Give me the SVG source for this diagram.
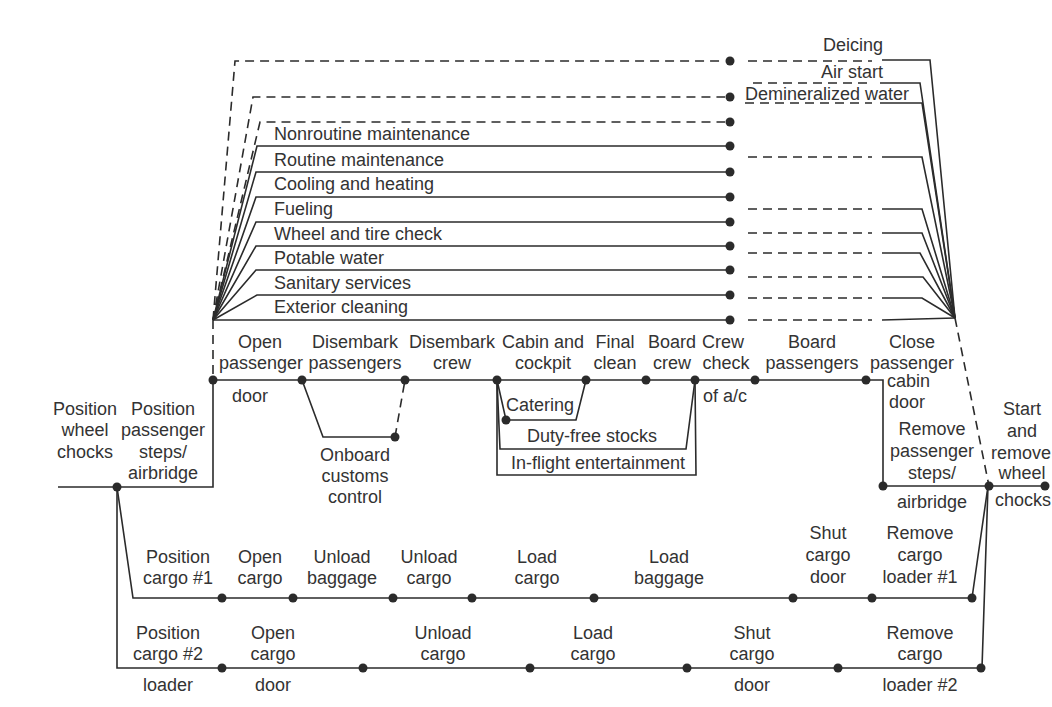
<svg xmlns="http://www.w3.org/2000/svg" width="1052" height="707" viewBox="0 0 1052 707">
<style>
.ln{fill:none;stroke:#2b2b2b;stroke-width:1.6}
.ds{fill:none;stroke:#2b2b2b;stroke-width:1.6;stroke-dasharray:9 6}
.dt{fill:#2b2b2b}
text{font-family:"Liberation Sans",Arial,sans-serif;font-size:18px;fill:#333}
.c{text-anchor:middle}
.e{text-anchor:end}
</style>
<rect width="1052" height="707" fill="#ffffff"/>
<g id="connectors">
  <!-- left fan of services -->
  <path class="ds" d="M213,320 L235,61 L725,61"/>
  <path class="ds" d="M213,320 L253,97 L725,97"/>
  <path class="ds" d="M213,320 L260,122 L725,122"/>
  <path class="ln" d="M213,320 L257,146 L730,146"/>
  <path class="ln" d="M213,320 L256,172 L730,172"/>
  <path class="ln" d="M213,320 L256,197 L730,197"/>
  <path class="ln" d="M213,320 L256,222 L730,222"/>
  <path class="ln" d="M213,320 L256,246 L730,246"/>
  <path class="ln" d="M213,320 L256,270 L730,270"/>
  <path class="ln" d="M213,320 L257,295 L730,295"/>
  <path class="ln" d="M213,320 L730,320"/>
  <path class="ds" d="M213,320 L213,380"/>
  <!-- right fan -->
  <path class="ds" d="M748,61 L872,61"/>
  <path class="ln" d="M882,60 L930,60 L955,318"/>
  <path class="ds" d="M753,83 L872,83"/>
  <path class="ln" d="M880,83 L920,83 L955,318"/>
  <path class="ds" d="M745,103 L872,103"/>
  <path class="ln" d="M880,103 L922,103 L955,318"/>
  <path class="ds" d="M748,157 L872,157"/>
  <path class="ln" d="M882,157 L922,157 L955,318"/>
  <path class="ds" d="M748,209 L872,209"/>
  <path class="ln" d="M882,209 L922,209 L955,318"/>
  <path class="ds" d="M748,233 L872,233"/>
  <path class="ln" d="M882,233 L922,233 L955,318"/>
  <path class="ds" d="M748,253 L872,253"/>
  <path class="ln" d="M882,253 L920,253 L955,318"/>
  <path class="ds" d="M748,277 L872,277"/>
  <path class="ln" d="M882,277 L923,277 L955,318"/>
  <path class="ds" d="M748,298 L872,298"/>
  <path class="ln" d="M882,298 L922,298 L955,318"/>
  <path class="ds" d="M748,320 L872,320"/>
  <path class="ln" d="M882,320 L955,318"/>
  <path class="ds" d="M955,318 L989,486"/>
  <!-- passenger line -->
  <path class="ln" d="M58,487 L213,487 L213,380 L883,380 L883,486 L1045,486"/>
  <path class="ln" d="M302,380 L323,437 L395,437"/>
  <path class="ds" d="M395,437 L405,380"/>
  <path class="ln" d="M497,380 L506,420 L576,420 L586,380"/>
  <path class="ln" d="M497,380 L500,449 L686,449 L695,380"/>
  <path class="ln" d="M497,380 L497,475 L696,475 L695,380"/>
  <!-- cargo lines -->
  <path class="ln" d="M117,487 L133,598 L972,598 L988,486"/>
  <path class="ln" d="M117,487 L117,668 L982,668 L988,486"/>
</g>
<g id="services">
  <g id="n-deicing"><circle class="dt" cx="730" cy="61" r="4.5"/><text class="e" x="883" y="51">Deicing</text></g>
  <g id="n-airstart"><circle class="dt" cx="730" cy="97" r="4.5"/><text class="e" x="883" y="78">Air start</text></g>
  <g id="n-demin"><circle class="dt" cx="730" cy="122" r="4.5"/><text x="745" y="100">Demineralized water</text></g>
  <g id="n-nonroutine"><circle class="dt" cx="730" cy="146" r="4.5"/><text x="274" y="140">Nonroutine maintenance</text></g>
  <g id="n-routine"><circle class="dt" cx="730" cy="172" r="4.5"/><text x="274" y="166">Routine maintenance</text></g>
  <g id="n-cooling"><circle class="dt" cx="730" cy="197" r="4.5"/><text x="274" y="190">Cooling and heating</text></g>
  <g id="n-fueling"><circle class="dt" cx="730" cy="222" r="4.5"/><text x="274" y="215">Fueling</text></g>
  <g id="n-wheel"><circle class="dt" cx="730" cy="246" r="4.5"/><text x="274" y="240">Wheel and tire check</text></g>
  <g id="n-potable"><circle class="dt" cx="730" cy="270" r="4.5"/><text x="274" y="264">Potable water</text></g>
  <g id="n-sanitary"><circle class="dt" cx="730" cy="295" r="4.5"/><text x="274" y="289">Sanitary services</text></g>
  <g id="n-exterior"><circle class="dt" cx="730" cy="320" r="4.5"/><text x="274" y="313">Exterior cleaning</text></g>
</g>
<g id="passenger">
  <g id="n-chocks"><circle class="dt" cx="117" cy="487" r="4.5"/><text class="c" x="85" y="415">Position</text><text class="c" x="85" y="436">wheel</text><text class="c" x="85" y="458">chocks</text></g>
  <g id="n-steps"><text class="c" x="163" y="415">Position</text><text class="c" x="163" y="436">passenger</text><text class="c" x="163" y="458">steps/</text><text class="c" x="163" y="479">airbridge</text></g>
  <g id="n-opendoor"><circle class="dt" cx="213" cy="380" r="4.5"/><text class="c" x="260" y="348">Open</text><text class="c" x="261" y="369">passenger</text><text class="c" x="250" y="402">door</text></g>
  <g id="n-dispax"><circle class="dt" cx="302" cy="380" r="4.5"/><text class="c" x="355" y="348">Disembark</text><text class="c" x="355" y="369">passengers</text></g>
  <g id="n-customs"><circle class="dt" cx="395" cy="437" r="4.5"/><text class="c" x="355" y="461">Onboard</text><text class="c" x="355" y="482">customs</text><text class="c" x="355" y="503">control</text></g>
  <g id="n-discrew"><circle class="dt" cx="405" cy="380" r="4.5"/><text class="c" x="452" y="348">Disembark</text><text class="c" x="452" y="369">crew</text></g>
  <g id="n-cabin"><circle class="dt" cx="497" cy="380" r="4.5"/><text class="c" x="543" y="348">Cabin and</text><text class="c" x="543" y="369">cockpit</text></g>
  <g id="n-catering"><circle class="dt" cx="506" cy="420" r="4.5"/><text class="c" x="540" y="411">Catering</text></g>
  <g id="n-dutyfree"><text class="c" x="592" y="442">Duty-free stocks</text></g>
  <g id="n-inflight"><text class="c" x="598" y="469">In-flight entertainment</text></g>
  <g id="n-final"><circle class="dt" cx="586" cy="380" r="4.5"/><text class="c" x="615" y="348">Final</text><text class="c" x="615" y="369">clean</text></g>
  <g id="n-boardcrew"><circle class="dt" cx="646" cy="380" r="4.5"/><text class="c" x="672" y="348">Board</text><text class="c" x="672" y="369">crew</text></g>
  <g id="n-crewcheck"><circle class="dt" cx="695" cy="380" r="4.5"/><text class="c" x="723" y="348">Crew</text><text class="c" x="726" y="369">check</text><text class="c" x="725" y="402">of a/c</text></g>
  <g id="n-boardpax"><circle class="dt" cx="755" cy="380" r="4.5"/><text class="c" x="812" y="348">Board</text><text class="c" x="812" y="369">passengers</text></g>
  <g id="n-close"><circle class="dt" cx="866" cy="380" r="4.5"/><text class="c" x="912" y="348">Close</text><text class="c" x="912" y="369">passenger</text><text x="887" y="387">cabin</text><text x="889" y="408">door</text></g>
  <g id="n-removesteps"><circle class="dt" cx="883" cy="486" r="4.5"/><text class="c" x="932" y="435">Remove</text><text class="c" x="932" y="457">passenger</text><text class="c" x="932" y="479">steps/</text><text class="c" x="932" y="508">airbridge</text></g>
  <g id="n-start"><circle class="dt" cx="989" cy="486" r="4.5"/><circle class="dt" cx="1045" cy="486" r="4.5"/><text class="c" x="1022" y="415">Start</text><text class="c" x="1022" y="437">and</text><text class="c" x="1021" y="459">remove</text><text class="c" x="1022" y="479">wheel</text><text class="c" x="1023" y="506">chocks</text></g>
</g>
<g id="cargo1">
  <g id="c1-pos"><circle class="dt" cx="222" cy="598" r="4.5"/><text class="c" x="178" y="563">Position</text><text class="c" x="178" y="584">cargo #1</text></g>
  <g id="c1-open"><circle class="dt" cx="293" cy="598" r="4.5"/><text class="c" x="260" y="563">Open</text><text class="c" x="260" y="584">cargo</text></g>
  <g id="c1-unbag"><circle class="dt" cx="393" cy="598" r="4.5"/><text class="c" x="342" y="563">Unload</text><text class="c" x="342" y="584">baggage</text></g>
  <g id="c1-uncargo"><circle class="dt" cx="472" cy="598" r="4.5"/><text class="c" x="429" y="563">Unload</text><text class="c" x="429" y="584">cargo</text></g>
  <g id="c1-loadcargo"><circle class="dt" cx="594" cy="598" r="4.5"/><text class="c" x="537" y="563">Load</text><text class="c" x="537" y="584">cargo</text></g>
  <g id="c1-loadbag"><circle class="dt" cx="793" cy="598" r="4.5"/><text class="c" x="669" y="563">Load</text><text class="c" x="669" y="584">baggage</text></g>
  <g id="c1-shut"><circle class="dt" cx="872" cy="598" r="4.5"/><text class="c" x="828" y="539">Shut</text><text class="c" x="828" y="561">cargo</text><text class="c" x="828" y="583">door</text></g>
  <g id="c1-remove"><circle class="dt" cx="972" cy="598" r="4.5"/><text class="c" x="920" y="539">Remove</text><text class="c" x="920" y="561">cargo</text><text class="c" x="920" y="583">loader #1</text></g>
</g>
<g id="cargo2">
  <g id="c2-pos"><circle class="dt" cx="222" cy="668" r="4.5"/><text class="c" x="168" y="639">Position</text><text class="c" x="168" y="660">cargo #2</text><text class="c" x="168" y="691">loader</text></g>
  <g id="c2-open"><circle class="dt" cx="363" cy="668" r="4.5"/><text class="c" x="273" y="639">Open</text><text class="c" x="273" y="660">cargo</text><text class="c" x="273" y="691">door</text></g>
  <g id="c2-unload"><circle class="dt" cx="530" cy="668" r="4.5"/><text class="c" x="443" y="639">Unload</text><text class="c" x="443" y="660">cargo</text></g>
  <g id="c2-load"><circle class="dt" cx="687" cy="668" r="4.5"/><text class="c" x="593" y="639">Load</text><text class="c" x="593" y="660">cargo</text></g>
  <g id="c2-shut"><circle class="dt" cx="838" cy="668" r="4.5"/><text class="c" x="752" y="639">Shut</text><text class="c" x="752" y="660">cargo</text><text class="c" x="752" y="691">door</text></g>
  <g id="c2-remove"><circle class="dt" cx="981" cy="668" r="4.5"/><text class="c" x="920" y="639">Remove</text><text class="c" x="920" y="660">cargo</text><text class="c" x="920" y="691">loader #2</text></g>
</g>
</svg>
